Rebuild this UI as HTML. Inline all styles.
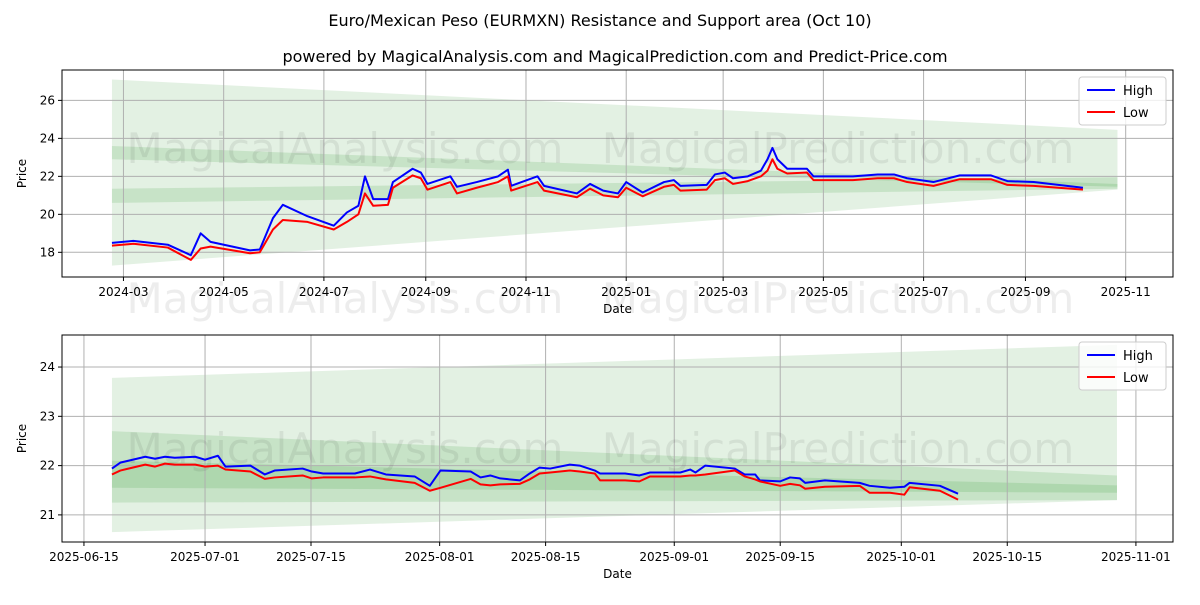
<!DOCTYPE html>
<html><head><meta charset="utf-8"><style>
body{margin:0;background:#fff;font-family:"Liberation Sans","DejaVu Sans",sans-serif}
svg text{font-family:"DejaVu Sans","Liberation Sans",sans-serif}
</style></head><body>
<svg id="c" width="1200" height="600" xmlns="http://www.w3.org/2000/svg">
<rect width="1200" height="600" fill="#fff"/>
<text x="600" y="26" text-anchor="middle" font-size="16">Euro/Mexican Peso (EURMXN) Resistance and Support area (Oct 10)</text>
<text x="615" y="62" text-anchor="middle" font-size="16">powered by MagicalAnalysis.com and MagicalPrediction.com and Predict-Price.com</text>
<g id="top"></g>
<g id="bot"></g>
</svg>
<script>
// ---- top panel data (day offsets from 2024-03-01) ----
const topDays=[-7,6,27,41,47,53,77,83,91,97,112,128,136,143,147,152,161,164,176,181,185,199,203,215,228,234,236,252,256,276,284,292,301,306,316,329,335,339,355,360,366,371,380,388,392,395,398,404,416,420,432,444,459,469,477,493,509,528,538,554,584];
const topHigh=[18.5,18.6,18.4,17.85,19.0,18.55,18.1,18.15,19.8,20.5,19.9,19.4,20.1,20.45,22.0,20.8,20.8,21.7,22.4,22.2,21.6,22.0,21.45,21.7,22.0,22.35,21.5,22.0,21.5,21.1,21.6,21.25,21.1,21.7,21.15,21.7,21.8,21.5,21.55,22.1,22.2,21.9,22.0,22.3,22.9,23.5,22.9,22.4,22.4,22.0,22.0,22.0,22.1,22.1,21.9,21.7,22.05,22.05,21.75,21.7,21.4];
const topLow=[18.35,18.45,18.25,17.6,18.2,18.3,17.95,18.0,19.2,19.7,19.6,19.2,19.6,20.0,21.1,20.45,20.5,21.4,22.05,21.9,21.3,21.7,21.1,21.4,21.7,22.0,21.25,21.7,21.25,20.9,21.35,21.0,20.9,21.4,20.95,21.45,21.55,21.25,21.3,21.8,21.9,21.6,21.75,22.0,22.3,22.9,22.4,22.15,22.2,21.8,21.8,21.8,21.9,21.9,21.7,21.5,21.85,21.85,21.55,21.5,21.3];
const topTickLabels=["2024-03","2024-05","2024-07","2024-09","2024-11","2025-01","2025-03","2025-05","2025-07","2025-09","2025-11"];
const topTickDays=[0,61,122,184,245,306,365,426,487,549,610];
const topYTicks=[18,20,22,24,26];
const topBandStart=[[17.3,27.1],[22.9,23.6],[20.6,21.35]];
const topBandEnd=[[21.3,24.45],[21.45,21.6],[21.35,21.95]];
const topBandDays=[-7,605];
// ---- bottom panel data (day offsets from 2025-06-15) ----
const botDays=[3.7,4.8,8.1,9.4,10.7,12.0,14.7,16.0,17.7,18.7,22.0,23.9,25.2,28.9,30.1,31.6,35.8,37.8,39.9,43.7,45.7,47.1,51.1,52.4,53.7,55.0,57.6,58.9,60.2,61.6,64.2,65.5,67.5,68.2,71.5,73.4,74.8,78.8,80.1,80.8,82.1,86.0,87.3,88.7,89.3,92.0,93.3,94.6,95.3,97.9,102.5,103.8,106.5,108.4,109.1,113.1,115.5];
const botHigh=[21.94,22.06,22.18,22.14,22.18,22.16,22.18,22.12,22.2,21.98,22.0,21.82,21.9,21.94,21.88,21.84,21.84,21.92,21.82,21.78,21.59,21.9,21.88,21.76,21.8,21.74,21.7,21.84,21.96,21.94,22.02,22.0,21.9,21.84,21.84,21.8,21.86,21.86,21.92,21.86,22.0,21.94,21.82,21.82,21.7,21.68,21.76,21.74,21.65,21.7,21.65,21.59,21.55,21.57,21.65,21.59,21.43];
const botLow=[21.82,21.9,22.02,21.98,22.04,22.02,22.02,21.98,22.0,21.92,21.88,21.73,21.76,21.8,21.74,21.76,21.76,21.78,21.72,21.65,21.49,21.55,21.73,21.62,21.6,21.62,21.63,21.72,21.84,21.86,21.9,21.88,21.84,21.7,21.7,21.68,21.78,21.78,21.8,21.8,21.82,21.9,21.78,21.72,21.68,21.59,21.63,21.6,21.53,21.57,21.59,21.45,21.45,21.41,21.56,21.49,21.31];
const botTickLabels=["2025-06-15","2025-07-01","2025-07-15","2025-08-01","2025-08-15","2025-09-01","2025-09-15","2025-10-01","2025-10-15","2025-11-01"];
const botTickDays=[0,16,30,47,61,78,92,108,122,139];
const botYTicks=[21,22,23,24];
const botBandStart=[[20.65,23.78],[21.25,22.7],[21.55,22.1]];
const botBandEnd=[[21.3,24.45],[21.3,21.8],[21.45,21.6]];
const botBandDays=[3.7,136.5];

const NS="http://www.w3.org/2000/svg";
function mk(parent,tag,attrs){const e=document.createElementNS(NS,tag);for(const k in attrs)e.setAttribute(k,attrs[k]);parent.appendChild(e);return e;}

function panel(g,cfg){
  const {L,R,T,B,x,y}=cfg;
  const xs=d=>L+(d-x[0])/(x[1]-x[0])*(R-L);
  const ys=v=>B-(v-y[0])/(y[1]-y[0])*(B-T);
  cfg.bs.forEach((s,i)=>{const e=cfg.be[i];
    const p=mk(g,'polygon',{points:`${xs(cfg.bd[0])},${ys(s[1])} ${xs(cfg.bd[1])},${ys(e[1])} ${xs(cfg.bd[1])},${ys(e[0])} ${xs(cfg.bd[0])},${ys(s[0])}`,fill:'green','fill-opacity':i==0?0.11:0.12});
    
    
  });
  cfg.td.forEach((d,i)=>{const X=xs(d);
    if(X>=L&&X<=R) mk(g,'line',{x1:X,x2:X,y1:T,y2:B,stroke:'#b0b0b0','stroke-width':1});
    mk(g,'line',{x1:X,x2:X,y1:B,y2:B+4,stroke:'#000'});
    const t=mk(g,'text',{x:X,y:B+19,'text-anchor':'middle','font-size':12});t.textContent=cfg.tl[i];
    
    
  });
  cfg.yt.forEach(v=>{const Y=ys(v);
    mk(g,'line',{x1:L,x2:R,y1:Y,y2:Y,stroke:'#b0b0b0','stroke-width':1});
    mk(g,'line',{x1:L-4,x2:L,y1:Y,y2:Y,stroke:'#000'});
    const t=mk(g,'text',{x:L-7,y:Y+4,'text-anchor':'end','font-size':12});t.textContent=v;
    
    
  });
  cfg.wm.forEach(w=>{const t=mk(g,'text',{x:w[0],y:w[1],'font-size':42,fill:'#000','fill-opacity':0.07,'text-anchor':'middle'});t.textContent=w[2];
    
    });
  const line=(vals,col,name)=>{const p=mk(g,'polyline',{points:cfg.d.map((d,i)=>xs(d)+','+ys(vals[i])).join(' '),fill:'none',stroke:col,'stroke-width':2,'stroke-linejoin':'round'});
    
    };
  line(cfg.h,'#0000ff','high-line');
  line(cfg.l,'#ff0000','low-line');
  mk(g,'rect',{x:L,y:T,width:R-L,height:B-T,fill:'none',stroke:'#000','stroke-width':1});
  const xt=mk(g,'text',{x:(L+R)/2,y:B+36,'text-anchor':'middle','font-size':12});xt.textContent='Date';
  
  
  const yt=mk(g,'text',{x:26,y:(T+B)/2,'text-anchor':'middle','font-size':12,transform:`rotate(-90 26 ${(T+B)/2})`});yt.textContent='Price';
  
  
  const lg=mk(g,'g',{});
  
  
  const lx=R-94,ly=T+7;
  mk(lg,'rect',{x:lx,y:ly,width:87,height:48,rx:3,fill:'#fff','fill-opacity':0.8,stroke:'#ccc'});
  [['High','#0000ff'],['Low','#ff0000']].forEach((e,i)=>{
    mk(lg,'line',{x1:lx+8,x2:lx+36,y1:ly+13+i*22,y2:ly+13+i*22,stroke:e[1],'stroke-width':2});
    const t=mk(lg,'text',{x:lx+44,y:ly+18+i*22,'font-size':13});t.textContent=e[0];
    
    
  });
}
panel(document.getElementById('top'),{L:62,R:1173,T:70,B:277,x:[-37.4,638.8],y:[16.7,27.6],
  d:topDays,h:topHigh,l:topLow,td:topTickDays,tl:topTickLabels,yt:topYTicks,bs:topBandStart,be:topBandEnd,bd:topBandDays,
  wm:[[345,163,'MagicalAnalysis.com'],[838,163,'MagicalPrediction.com'],[345,313,'MagicalAnalysis.com'],[838,313,'MagicalPrediction.com']]});
panel(document.getElementById('bot'),{L:62,R:1173,T:335,B:542,x:[-2.9,143.9],y:[20.45,24.65],
  d:botDays,h:botHigh,l:botLow,td:botTickDays,tl:botTickLabels,yt:botYTicks,bs:botBandStart,be:botBandEnd,bd:botBandDays,
  wm:[[345,463,'MagicalAnalysis.com'],[838,463,'MagicalPrediction.com']]});
</script>
</body></html>
